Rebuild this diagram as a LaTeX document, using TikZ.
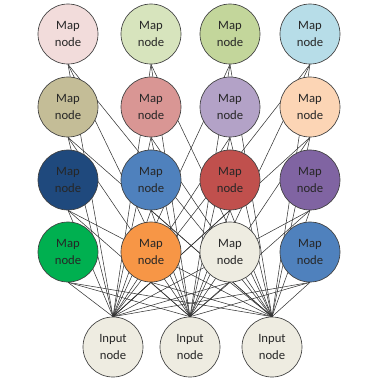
\documentclass[tikz,border=0pt]{standalone}
\usepackage{fontspec}
\setmainfont{Carlito}
\usepackage{tikz}
\usetikzlibrary{positioning, backgrounds}

\definecolor{pinkA}{HTML}{F2DCDB}
\definecolor{greenA}{HTML}{D7E4BD}
\definecolor{greenB}{HTML}{C3D69B}
\definecolor{blueA}{HTML}{B7DDE8}
\definecolor{tanA}{HTML}{C4BD97}
\definecolor{roseA}{HTML}{D99694}
\definecolor{lilacA}{HTML}{B3A2C7}
\definecolor{peachA}{HTML}{FCD5B5}
\definecolor{navyA}{HTML}{1F497D}
\definecolor{blueB}{HTML}{4F81BD}
\definecolor{redA}{HTML}{C0504D}
\definecolor{purpleA}{HTML}{8064A2}
\definecolor{greenC}{HTML}{00B050}
\definecolor{orangeA}{HTML}{F79646}
\definecolor{greyA}{HTML}{EEECE1}

\tikzset{
  mapnode/.style={circle, draw=black!75, line width=0.5pt, minimum size=45pt,
    inner sep=0pt, align=center, text=black!85,
    font=\fontsize{9.5}{13}\selectfont},
  wire/.style={draw=black!80, line width=0.4pt}
}

\begin{document}
\begin{tikzpicture}[x=0.75pt, y=-0.75pt]
        \useasboundingbox (0,0) rectangle (380,380);

        % Map nodes
        \foreach \r/\c/\x/\y/\col in {
            1/1/68/34/pinkA, 1/2/151/34/greenA, 1/3/230/34/greenB, 1/4/310/34/blueA,
            2/1/68/107/tanA, 2/2/151/107/roseA, 2/3/230/107/lilacA, 2/4/310/107/peachA,
            3/1/68/180/navyA, 3/2/151/180/blueB, 3/3/230/180/redA, 3/4/310/180/purpleA,
            4/1/68/252/greenC, 4/2/151/252/orangeA, 4/3/230/252/greyA, 4/4/310/252/blueB}
            \node[mapnode, fill=\col] (m\r\c) at (\x,\y) {Map\\node};

        % Input nodes
        \foreach \i/\x in {1/113, 2/190, 3/272}
            \node[mapnode, fill=greyA] (in\i) at (\x,347) {Input\\node};

        % Links
        \begin{scope}[on background layer]
            \foreach \i in {1,2,3}
                \foreach \r in {1,...,4}
                    \foreach \c in {1,...,4}
                        \draw[wire] (in\i.north) -- (m\r\c.south);
        \end{scope}
    \end{tikzpicture}
\end{document}
